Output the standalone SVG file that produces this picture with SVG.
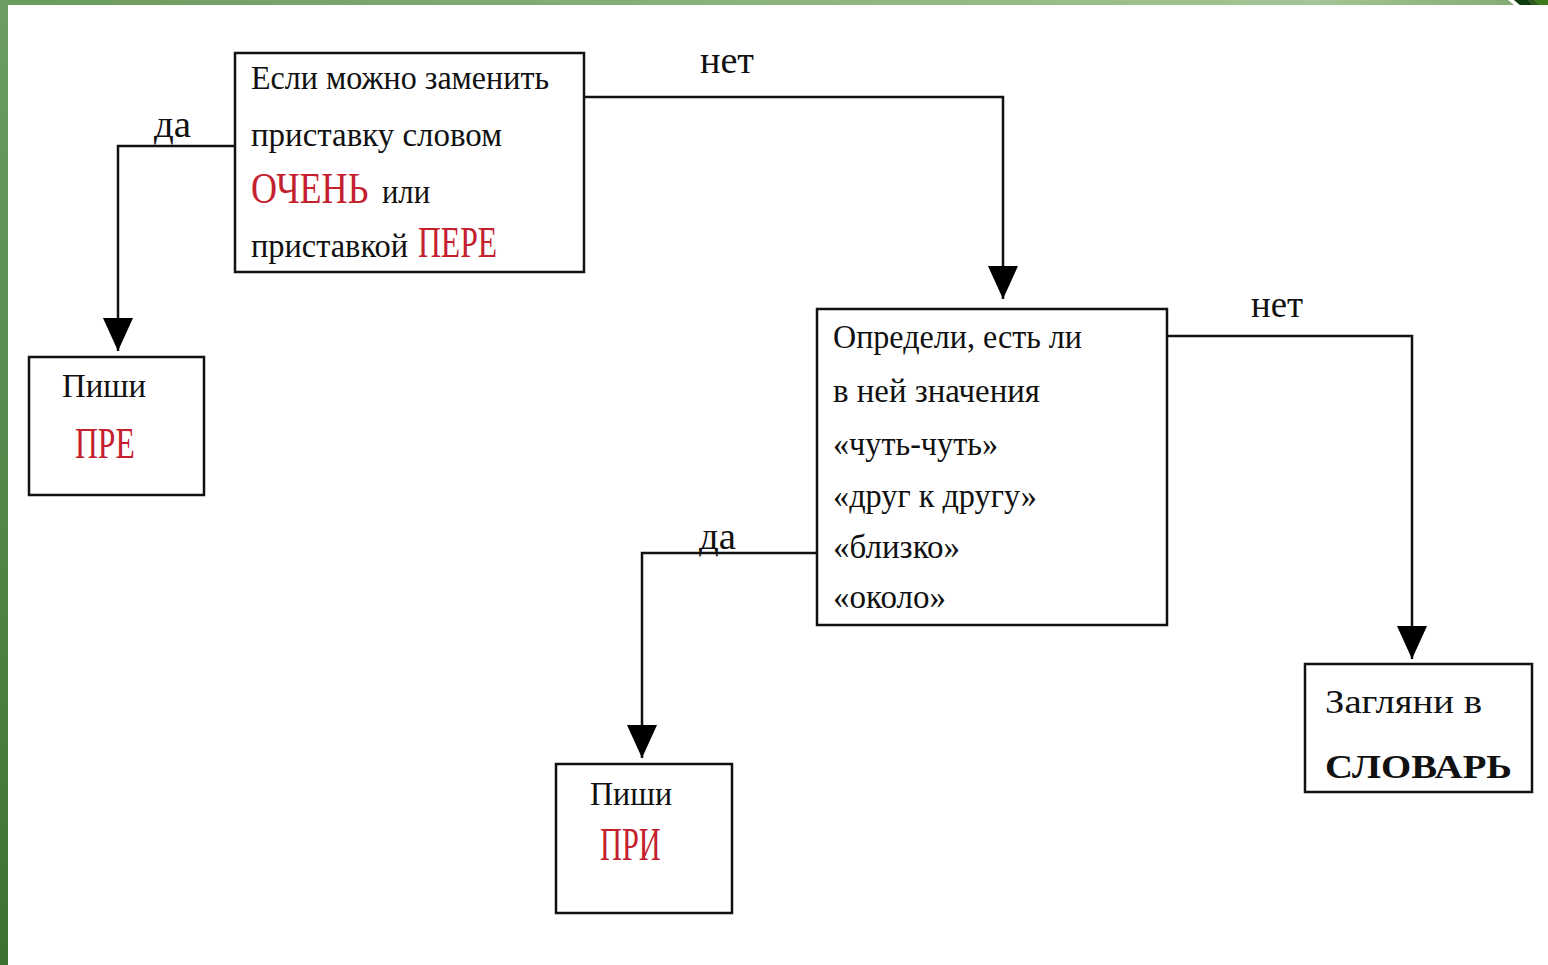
<svg xmlns="http://www.w3.org/2000/svg" width="1548" height="965" viewBox="0 0 1548 965">
<defs>
<linearGradient id="gTop" x1="0" y1="0" x2="1" y2="0">
<stop offset="0" stop-color="#6a9a5c"/>
<stop offset="0.85" stop-color="#a4c595"/>
<stop offset="1" stop-color="#7fa770"/>
</linearGradient>
<linearGradient id="gLeft" x1="0" y1="0" x2="0" y2="1">
<stop offset="0" stop-color="#6c9e63"/>
<stop offset="1" stop-color="#3c7230"/>
</linearGradient>
<marker id="arr" markerUnits="userSpaceOnUse" markerWidth="34" markerHeight="32" refX="33" refY="15" orient="auto">
<path d="M0,0 L33,15 L0,30 z" fill="#000"/>
</marker>
</defs>
<style>
.box{fill:#fff;stroke:#111;stroke-width:2.5}
.con{fill:none;stroke:#111;stroke-width:2.5;marker-end:url(#arr)}
.t{font-family:"Liberation Serif","DejaVu Serif",serif;font-size:33px;fill:#111}
.r{font-family:"Liberation Serif","DejaVu Serif",serif;fill:#c4202e}
.lbl{font-family:"Liberation Serif","DejaVu Serif",serif;font-size:38px;fill:#111}
</style>
<rect x="0" y="0" width="1548" height="965" fill="#fff"/>
<rect x="0" y="0" width="1548" height="5" fill="url(#gTop)"/>
<polygon points="1508,0 1514,0 1520,5 1514,5" fill="#fff"/>
<polygon points="1514,0 1528,0 1533,5 1520,5" fill="#0e3c10"/>
<polygon points="1528,0 1534,0 1539,5 1533,5" fill="#2b5a1c"/>
<polygon points="1534,0 1548,0 1548,5 1539,5" fill="#3d7a1c"/>
<rect x="0" y="0" width="8" height="965" fill="url(#gLeft)"/>

<g id="connectors">
<path class="con" d="M235,146 H118 V351"/>
<path class="con" d="M584,97 H1003 V299"/>
<path class="con" d="M1167,336 H1412 V659"/>
<path class="con" d="M817,553 H642 V758"/>
<text class="lbl" x="154" y="137" textLength="37" lengthAdjust="spacingAndGlyphs">да</text>
<text class="lbl" x="700" y="73" textLength="54" lengthAdjust="spacingAndGlyphs">нет</text>
<text class="lbl" x="1251" y="317" textLength="52" lengthAdjust="spacingAndGlyphs">нет</text>
<text class="lbl" x="699" y="549" textLength="37" lengthAdjust="spacingAndGlyphs">да</text>
</g>

<g id="node-q1">
<rect class="box" x="235" y="53" width="349" height="219"/>
<text class="t" x="251" y="89" textLength="298" lengthAdjust="spacingAndGlyphs">Если можно заменить</text>
<text class="t" x="251" y="146" textLength="251" lengthAdjust="spacingAndGlyphs">приставку словом</text>
<text class="r" x="0" y="0" font-size="44" transform="matrix(0.82,0,0,1,251,203)">ОЧЕНЬ</text>
<text class="t" x="382" y="203" textLength="48" lengthAdjust="spacingAndGlyphs">или</text>
<text class="t" x="251" y="257" textLength="157" lengthAdjust="spacingAndGlyphs">приставкой</text>
<text class="r" x="0" y="0" font-size="44" transform="matrix(0.72,0,0,1,418,257)">ПЕРЕ</text>
</g>

<g id="node-pre">
<rect class="box" x="29" y="357" width="175" height="138"/>
<text class="t" x="62" y="397" font-size="40" textLength="84" lengthAdjust="spacingAndGlyphs">Пиши</text>
<text class="r" x="0" y="0" font-size="44" transform="matrix(0.72,0,0,1,75,458)">ПРЕ</text>
</g>

<g id="node-q2">
<rect class="box" x="817" y="309" width="350" height="316"/>
<text class="t" x="833" y="348" textLength="249" lengthAdjust="spacingAndGlyphs">Определи, есть ли</text>
<text class="t" x="833" y="402" textLength="207" lengthAdjust="spacingAndGlyphs">в ней значения</text>
<text class="t" x="833" y="455" textLength="165" lengthAdjust="spacingAndGlyphs">«чуть-чуть»</text>
<text class="t" x="833" y="507" textLength="204" lengthAdjust="spacingAndGlyphs">«друг к другу»</text>
<text class="t" x="833" y="558" textLength="127" lengthAdjust="spacingAndGlyphs">«близко»</text>
<text class="t" x="833" y="608" textLength="113" lengthAdjust="spacingAndGlyphs">«около»</text>
</g>

<g id="node-pri">
<rect class="box" x="556" y="764" width="176" height="149"/>
<text class="t" x="590" y="805" font-size="42" textLength="82" lengthAdjust="spacingAndGlyphs">Пиши</text>
<text class="r" x="0" y="0" font-size="46" transform="matrix(0.66,0,0,1,600,860)">ПРИ</text>
</g>

<g id="node-dict">
<rect class="box" x="1305" y="664" width="227" height="128"/>
<text class="t" x="1325" y="713" font-size="48" textLength="157" lengthAdjust="spacingAndGlyphs">Загляни в</text>
<text class="t" x="1325" y="778" font-size="60" font-weight="bold" textLength="187" lengthAdjust="spacingAndGlyphs">СЛОВАРЬ</text>
</g>
</svg>
